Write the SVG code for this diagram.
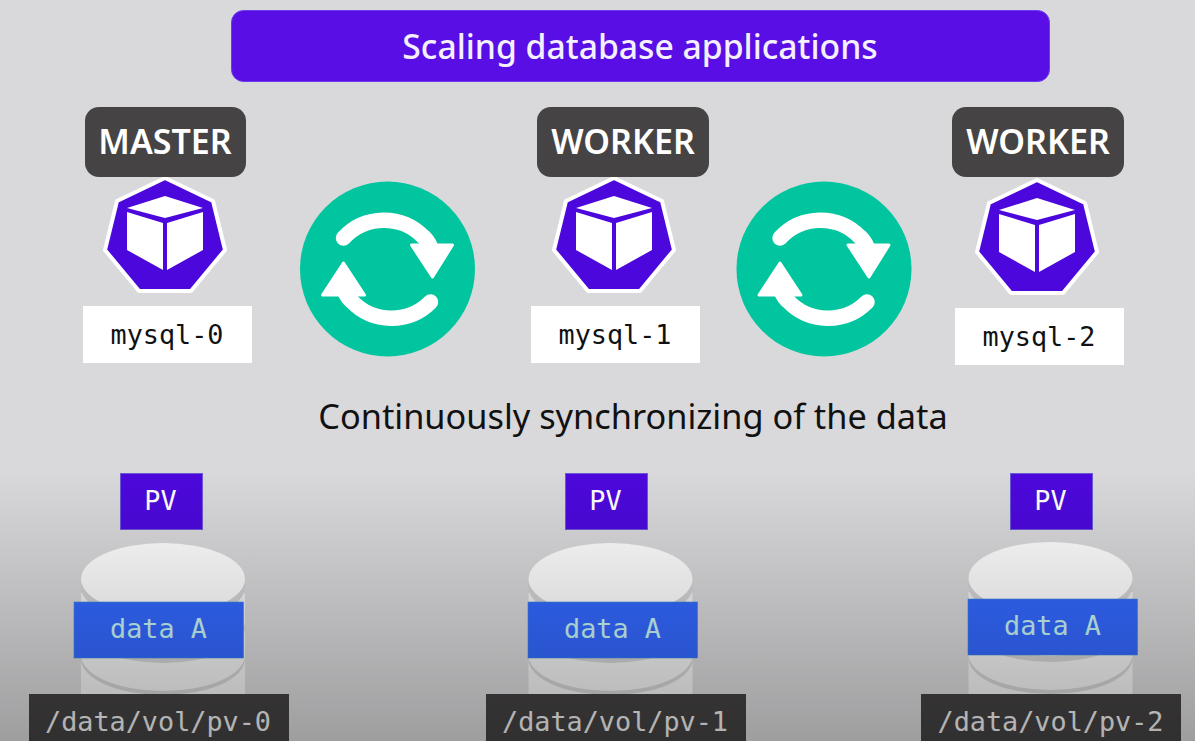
<svg xmlns="http://www.w3.org/2000/svg" xmlns:xlink="http://www.w3.org/1999/xlink" width="1195" height="741" viewBox="0 0 1195 741">
<style>
.mono{font-family:"DejaVu Sans Mono",monospace;font-size:26.8px;text-anchor:middle}
.sans{font-family:"Noto Sans",sans-serif}
.role{fill:#454344}
.roleT{font-size:34px;font-weight:600;fill:#fff;text-anchor:middle}
.pv{fill:#4c08dc;stroke:#6a58d8;stroke-width:1}
.data{fill:#3368ff;stroke:#3f8ad8;stroke-width:.6}
.path{fill:#434142}
</style>
<defs>
<linearGradient id="fade" x1="0" y1="0" x2="0" y2="1">
<stop offset="0" stop-color="#000" stop-opacity="0"/>
<stop offset="1" stop-color="#000" stop-opacity=".27"/>
</linearGradient>
<g id="pod">
<polygon points="165,178 213,201 225,250 191,291 139,291 105,250 117,201" fill="#4c08dc" stroke="#fff" stroke-width="4" stroke-linejoin="round"/>
<polygon points="165,196 203,208 165,218 127,208" fill="#fff"/>
<polygon points="127,212 163,223 163,270 127,250" fill="#fff"/>
<polygon points="167,223 203,212 203,250 167,270" fill="#fff"/>
</g>
<g id="sync">
<circle r="87.500" fill="#00c59e"/>
<path d="M-44,-31A55,55 0 0 1 36,-32" fill="none" stroke="#fff" stroke-width="15.500" stroke-linecap="round"/>
<path d="M36,-32Q40,-29 43,-22" fill="none" stroke="#fff" stroke-width="15.500"/>
<polygon points="24,-24 65,-24 45,8" fill="#fff" stroke="#fff" stroke-width="3" stroke-linejoin="round"/>
<path d="M43,33A55,55 0 0 1 -36,32" fill="none" stroke="#fff" stroke-width="15.500" stroke-linecap="round"/>
<path d="M-36,32Q-40,29 -43,22" fill="none" stroke="#fff" stroke-width="15.500"/>
<polygon points="-65,26 -23,26 -44,-6" fill="#fff" stroke="#fff" stroke-width="3" stroke-linejoin="round"/>
</g>
<g id="cyl">
<rect x="-82" y="14" width="164" height="102" fill="#f2f2f3"/>
<ellipse cx="0" cy="80" rx="82" ry="36" fill="#d4d3d5"/>
<ellipse cx="0" cy="76" rx="82" ry="36" fill="#f2f2f3"/>
<ellipse cx="0" cy="48" rx="82" ry="36" fill="#d4d3d5"/>
<ellipse cx="0" cy="42" rx="82" ry="36" fill="#f2f2f3"/>
<ellipse cx="0" cy="8" rx="82" ry="36" fill="#d4d3d5"/>
<ellipse cx="0" cy="0" rx="82" ry="36" fill="#ffffff"/>
</g>
</defs>
<rect id="background" width="1195" height="741" fill="#d9d8da"/>
<g id="title">
<rect x="231.500" y="10.500" width="818" height="71" rx="12" fill="#590ee6" stroke="#6c3aea"/>
<text class="sans" x="640" y="59" font-size="33.700" font-weight="500" fill="#f4f0ff" text-anchor="middle">Scaling database applications</text>
</g>
<g id="master-0">
<use xlink:href="#pod" href="#pod"/>
<rect class="role" x="85" y="107" width="161" height="70" rx="14"/>
<text class="sans roleT" x="165" y="154">MASTER</text>
<rect x="83" y="306" width="169" height="57" fill="#fff"/>
<text class="mono" x="167" y="344" fill="#111">mysql-0</text>
</g>
<g id="worker-1">
<use xlink:href="#pod" href="#pod" x="449"/>
<rect class="role" x="537" y="107" width="172" height="70" rx="14"/>
<text class="sans roleT" x="623" y="154">WORKER</text>
<rect x="531" y="306" width="169" height="57" fill="#fff"/>
<text class="mono" x="615" y="344" fill="#111">mysql-1</text>
</g>
<g id="worker-2">
<use xlink:href="#pod" href="#pod" x="872" y="2"/>
<rect class="role" x="952" y="107" width="172" height="70" rx="14"/>
<text class="sans roleT" x="1038" y="154">WORKER</text>
<rect x="955" y="308" width="169" height="57" fill="#fff"/>
<text class="mono" x="1039" y="346" fill="#111">mysql-2</text>
</g>
<g id="connectors">
<use xlink:href="#sync" href="#sync" x="387.500" y="269"/>
<use xlink:href="#sync" href="#sync" x="824" y="269"/>
</g>
<text id="caption" class="sans" x="633" y="429" font-size="34.300" fill="#111" text-anchor="middle">Continuously synchronizing of the data</text>
<g id="volume-0">
<rect class="pv" x="120.500" y="473.500" width="82" height="56"/>
<text class="mono" x="160.500" y="510" fill="#fff">PV</text>
<use xlink:href="#cyl" href="#cyl" x="163" y="579"/>
<rect class="data" x="74" y="602" width="169.500" height="56"/>
<text class="mono" x="158.500" y="638" fill="#c8f5f5">data A</text>
<rect class="path" x="29" y="694" width="260" height="47"/>
<text class="mono" x="158" y="731" fill="#f0f0f0">/data/vol/pv-0</text>
</g>
<g id="volume-1">
<rect class="pv" x="565.500" y="473.500" width="82" height="56"/>
<text class="mono" x="605.500" y="510" fill="#fff">PV</text>
<use xlink:href="#cyl" href="#cyl" x="610.500" y="579"/>
<rect class="data" x="528" y="602" width="169.500" height="56"/>
<text class="mono" x="612.500" y="638" fill="#c8f5f5">data A</text>
<rect class="path" x="486" y="694" width="260" height="47"/>
<text class="mono" x="615" y="731" fill="#f0f0f0">/data/vol/pv-1</text>
</g>
<g id="volume-2">
<rect class="pv" x="1010.500" y="473.500" width="82" height="56"/>
<text class="mono" x="1050.500" y="510" fill="#fff">PV</text>
<use xlink:href="#cyl" href="#cyl" x="1050.500" y="578"/>
<rect class="data" x="968" y="599" width="169.500" height="56"/>
<text class="mono" x="1052.500" y="635" fill="#c8f5f5">data A</text>
<rect class="path" x="921" y="694" width="260" height="47"/>
<text class="mono" x="1050.500" y="731" fill="#f0f0f0">/data/vol/pv-2</text>
</g>
<rect id="fade-overlay" y="470" width="1195" height="271" fill="url(#fade)"/>
</svg>
